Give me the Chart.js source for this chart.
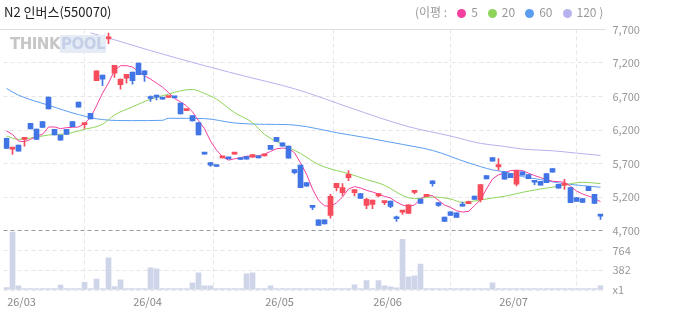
<!DOCTYPE html>
<html>
<head>
<meta charset="utf-8">
<script src="https://cdn.jsdelivr.net/npm/chart.js@4.4.1/dist/chart.umd.min.js"></script>
<style>
  body { margin: 0; background: #fff; }
  #wrap { position: relative; width: 673px; height: 315px; font-family: 'Noto Sans CJK KR', 'Noto Sans', sans-serif; }
  #chart { position: absolute; left: 0; top: 0; }
  .title { position: absolute; left: 4px; top: 4px; font-size: 13px; line-height: 16px; color: #222; }
  .legend { position: absolute; left: 415px; top: 4px; font-size: 12px; line-height: 16px; color: #999; white-space: nowrap; }
  .dot { display: inline-block; width: 9px; height: 9px; border-radius: 50%; margin: 0 5px 0 10px; vertical-align: -1px; }
  .wm { position: absolute; left: 10px; top: 37px; font: bold 15px 'DejaVu Sans', sans-serif; line-height: 15px; letter-spacing: -0.5px; }
  .wm .a { color: #c6c6c6; }
  .wm .b { color: #c5d0e8; background: #e6ecf6; padding: 0 1px; }
</style>
</head>
<body>
<div id="wrap">
  <canvas id="chart" width="673" height="315"></canvas>
  <div class="title">N2 인버스(550070)</div>
  <div class="legend">(이평 :<i class="dot" style="background:#f43f9e"></i>5<i class="dot" style="background:#8fd45a"></i>20<i class="dot" style="background:#5b9ef0"></i>60<i class="dot" style="background:#b6b2ee"></i>120 )</div>
  <div class="wm"><span class="a">THINK</span><span class="b">POOL</span></div>
</div>
<script>
// 월 구분 (첫 거래일 앞 경계)
const monthTicks = [2.5, 23.5, 45.5, 63.5, 84.5];
const monthLabels = ['26/03', '26/04', '26/05', '26/06', '26/07'];
const priceTicks = [4700, 5200, 5700, 6200, 6700, 7200, 7700];
const volTicks = [0, 382, 764];

// 일봉 시가/고가/저가/종가
const opens = [6075,5915,5975,6060,6300,6215,6325,6690,6210,6125,6210,6325,6615,6280,6450,6935,7020,7560,7050,6875,
  6975,7065,7200,7085,6680,6720,6665,6685,6685,6600,6490,6415,6310,5860,5715,5660,5785,5775,5840,5765,
  5805,5795,5790,5815,5970,6090,6010,5960,5610,5675,5415,5070,4860,4860,4925,5340,5265,5490,5265,5250,
  5075,5090,5215,5115,5140,4880,4975,4955,5270,5170,5210,5440,5115,4900,4980,4965,5070,5100,5215,5160,
  5520,5790,5650,5575,5550,5390,5575,5535,5425,5435,5550,5625,5390,5375,5340,5190,5175,5355,5240,4920];
const highs = [6080,5940,5975,6090,6300,6215,6325,6690,6210,6125,6210,6325,6615,6300,6450,7085,7020,7645,7165,6960,
  7030,7065,7200,7085,6710,6720,6665,6690,6685,6600,6495,6415,6310,5860,5715,5660,5790,5775,5845,5765,
  5805,5835,5790,5835,5970,6090,6010,5960,5610,5675,5415,5070,4860,4860,5240,5405,5400,5595,5310,5250,
  5185,5155,5250,5140,5140,4915,4990,5085,5295,5170,5215,5440,5115,4900,4980,4965,5125,5140,5215,5385,
  5520,5790,5775,5575,5550,5595,5575,5535,5425,5435,5550,5625,5390,5465,5340,5190,5175,5355,5240,4920];
const lows = [5920,5835,5885,5960,6215,6060,6240,6515,6125,6050,6135,6250,6540,6225,6365,6935,6860,7490,6985,6810,
  6900,6885,7025,6925,6625,6650,6660,6685,6680,6440,6490,6335,6125,5840,5655,5655,5785,5770,5840,5760,
  5765,5795,5785,5815,5910,6030,5960,5780,5545,5340,5360,5010,4775,4800,4885,5290,5225,5445,5215,5180,
  5025,5025,5200,5085,5040,4835,4940,4955,5245,5105,5210,5360,5060,4835,4925,4895,5065,5100,5165,5125,
  5470,5735,5600,5465,5490,5365,5525,5475,5385,5375,5415,5570,5330,5315,5115,5135,5120,5295,5105,4865];
const closes = [5925,5940,5885,6090,6215,6060,6240,6515,6125,6050,6135,6250,6540,6300,6365,7085,6960,7570,7165,6960,
  7030,6935,7025,7025,6670,6690,6660,6690,6680,6440,6495,6335,6125,5840,5675,5655,5790,5770,5845,5760,
  5765,5835,5785,5835,5910,6030,5960,5780,5565,5340,5360,5045,4775,4800,5210,5405,5340,5540,5310,5180,
  5165,5155,5250,5140,5060,4875,4990,5085,5295,5105,5215,5400,5075,4835,4925,4895,5065,5105,5165,5385,
  5470,5735,5685,5465,5490,5595,5525,5475,5420,5375,5415,5570,5330,5405,5115,5135,5120,5295,5105,4915];
const volumes = [45,1115,80,25,25,25,25,25,25,95,25,25,25,150,25,210,25,620,65,195,
  25,25,25,25,425,410,25,25,25,25,25,140,330,80,80,25,25,25,25,25,
  310,330,25,25,80,25,25,25,25,25,25,25,25,25,25,25,25,25,100,25,
  180,25,180,80,60,40,975,255,275,500,25,25,25,25,25,25,25,25,25,25,
  25,140,25,25,25,25,25,25,25,25,25,25,25,25,25,25,25,25,25,80];

// 이동평균선
const ma5 = [6185,6135,6035,6025,6060,6110,6135,6245,6245,6220,6235,6240,6245,6295,6385,6560,6750,6900,7090,7160,
  7160,7140,7075,7010,6960,6900,6840,6760,6670,6620,6560,6470,6340,6220,6035,5900,5800,5750,5770,5785,
  5810,5810,5815,5840,5880,5920,5930,5925,5860,5710,5540,5320,5150,5070,5060,5115,5200,5320,5355,5335,
  5300,5275,5245,5210,5185,5125,5080,5060,5080,5175,5220,5220,5150,5080,5045,4995,4975,4985,5070,5160,
  5320,5470,5530,5560,5595,5600,5595,5555,5520,5490,5460,5435,5430,5420,5360,5290,5245,5215,5180,5130];
const ma20 = [[0,6110],[2,6060],[4,6080],[7,6125],[10,6145],[13,6210],[16,6285],[18,6425],[21,6545],[24,6660],
  [27,6735],[29,6785],[31,6805],[33,6745],[35,6660],[38,6460],[41,6310],[43,6135],[46,5985],[49,5850],
  [52,5685],[55,5595],[57,5550],[60,5460],[63,5375],[66,5225],[68,5175],[71,5200],[74,5170],[76,5120],
  [78,5140],[81,5185],[83,5210],[86,5270],[89,5320],[92,5360],[96,5420],[99,5400]];
const ma60 = [[0,6820],[2,6720],[7,6570],[12,6430],[16,6355],[21,6340],[26,6345],[27,6375],[33,6370],[38,6305],
  [43,6285],[47,6280],[50,6250],[55,6160],[60,6085],[66,5985],[71,5895],[77,5710],[81,5605],[83,5575],
  [86,5505],[89,5460],[92,5410],[96,5370],[99,5345]];
const ma120 = [[14,7650],[16,7600],[24,7385],[33,7160],[41,6975],[46,6865],[50,6760],[57,6540],[67,6250],[74,6110],
  [79,6000],[83,5955],[86,5915],[91,5890],[95,5855],[99,5820]];

const RED = '#f64c5c';
const BLUE = '#4175e6';
const FONT = "'Noto Sans CJK KR', 'Noto Sans', sans-serif";

let candleColors = opens.map((o, i) => closes[i] >= o ? RED : BLUE);

let bodyData = opens.map((o, i) => ({ x: i, y: [o, closes[i]] }));
let wickData = opens.map((o, i) => ({ x: i, y: [lows[i], highs[i]] }));
let volData = volumes.map((v, i) => ({ x: i, y: v }));
let ma5Data = ma5.map((v, i) => ({ x: i, y: v }));
let toPts = arr => arr.map(p => ({ x: p[0], y: p[1] }));

function lineSet(data, color, tension) {
  return {
    type: 'line', data: data, yAxisID: 'y',
    borderColor: color, borderWidth: 1, pointRadius: 0,
    tension: tension, cubicInterpolationMode: tension ? 'monotone' : 'default'
  };
}

// 상단 실선
const topLine = {
  id: 'topLine',
  afterDraw(chart) {
    const ctx = chart.ctx;
    const y = Math.floor(chart.scales.y.getPixelForValue(7700)) + 0.5;
    ctx.save();
    ctx.strokeStyle = '#dedede';
    ctx.lineWidth = 1;
    ctx.beginPath();
    ctx.moveTo(0, y);
    ctx.lineTo(chart.chartArea.right + 2, y);
    ctx.stroke();
    ctx.restore();
  }
};

Chart.defaults.font.family = FONT;

new Chart(document.getElementById('chart'), {
  type: 'bar',
  data: {
    datasets: [
      { data: bodyData, yAxisID: 'y', backgroundColor: candleColors, barThickness: 5, minBarLength: 2, grouped: false },
      { data: wickData, yAxisID: 'y', backgroundColor: candleColors, barThickness: 1, grouped: false },
      lineSet(ma5Data, '#f43f9e', 0),
      lineSet(toPts(ma20), '#8fd45a', 0.4),
      lineSet(toPts(ma60), '#5b9ef0', 0.4),
      lineSet(toPts(ma120), '#b6b2ee', 0.4),
      { data: volData, yAxisID: 'yVol', backgroundColor: '#cfd5e9', barThickness: 5, grouped: false }
    ]
  },
  options: {
    responsive: false,
    animation: false,
    events: [],
    layout: { padding: { left: 3.5, top: 29.5, right: 0, bottom: 0 } },
    plugins: { legend: { display: false }, tooltip: { enabled: false } },
    scales: {
      x: {
        type: 'linear', min: -0.5, max: 99.5, offset: false,
        afterBuildTicks: s => { s.ticks = monthTicks.map(v => ({ value: v })); },
        afterFit: s => { s.height = 25; },
        ticks: { autoSkip: false, maxRotation: 0, padding: 5, color: '#888', font: { size: 11 },
          callback: (v, i) => monthLabels[i] },
        grid: { color: '#e6e6e6', drawTicks: false },
        border: { display: false, dash: [4, 3] }
      },
      y: {
        position: 'right', stack: 'panes', stackWeight: 201,
        min: 4700, max: 7700,
        afterBuildTicks: s => { s.ticks = priceTicks.map(v => ({ value: v })); },
        afterFit: s => { s.width = 69.5; },
        ticks: { padding: 9, color: '#999', font: { size: 11 },
          callback: v => v.toLocaleString('en-US') },
        grid: { drawTicks: false,
          color: c => c.tick.value === 4700 ? '#9a9a9a' : (c.tick.value === 7700 ? 'rgba(0,0,0,0)' : '#e6e6e6') },
        border: { display: false, dash: [4, 3] }
      },
      yVol: {
        position: 'right', stack: 'panes', stackWeight: 59.5,
        min: 0, max: 1146,
        afterBuildTicks: s => { s.ticks = volTicks.map(v => ({ value: v })); },
        afterFit: s => { s.width = 69.5; },
        ticks: { padding: 9, color: '#999', font: { size: 11 },
          callback: v => v === 0 ? 'x1' : String(v) },
        grid: { drawTicks: false, color: '#e6e6e6' },
        border: { display: false, dash: [4, 3] }
      }
    }
  },
  plugins: [topLine]
});
</script>
</body>
</html>
